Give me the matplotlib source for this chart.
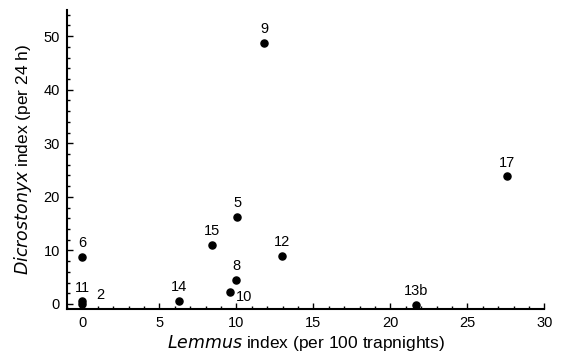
import matplotlib
matplotlib.use('Agg')
import matplotlib.pyplot as plt
from matplotlib.ticker import MultipleLocator

plt.rcParams['font.family'] = ['Liberation Sans', 'DejaVu Sans']

# Datos
etiquetas = ['9', '17', '5', '15', '12', '6', '8', '10', '14', '11', '2', '13b']
lemmus = [11.8, 27.55, 10.05, 8.4, 12.95, 0.0, 10.0, 9.6, 6.3, 0.0, 0.0, 21.65]
dicrostonyx = [48.8, 23.8, 16.3, 11.0, 9.0, 8.8, 4.5, 2.3, 0.5, 0.6, 0.0, -0.2]

# Desplazamiento de cada etiqueta (en puntos)
offsets = {'10': (10, -4), '2': (13, 6.5), '11': (0, 9)}

fig = plt.figure(figsize=(5.63, 3.62), dpi=100)
ax = fig.add_axes([0.119, 0.1456, 0.848, 0.827])

ax.scatter(lemmus, dicrostonyx, s=26, color='black', zorder=3)

for lab, x, y in zip(etiquetas, lemmus, dicrostonyx):
    dx, dy = offsets.get(lab, (0, 10))
    ax.annotate(lab, (x, y), xytext=(dx, dy), textcoords='offset points',
                ha='center', va='center', fontsize=10.5)

ax.set_xlim(-1.0, 30.0)
ax.set_ylim(-1.0, 54.9)
ax.xaxis.set_major_locator(MultipleLocator(5))
ax.xaxis.set_minor_locator(MultipleLocator(1))
ax.yaxis.set_major_locator(MultipleLocator(10))
ax.yaxis.set_minor_locator(MultipleLocator(2))
ax.tick_params(which='both', direction='in', labelsize=10.5, width=1)
ax.tick_params(which='major', length=4)
ax.tick_params(axis='x', which='major', pad=5)
ax.tick_params(axis='y', which='major', pad=5)
ax.tick_params(which='minor', length=2)

for s in ['top', 'right']:
    ax.spines[s].set_visible(False)
for s in ['left', 'bottom']:
    ax.spines[s].set_linewidth(1.5)

ax.set_xlabel('$\\it{Lemmus}$ index (per 100 trapnights)', fontsize=12.5, labelpad=2)
ax.set_ylabel('$\\it{Dicrostonyx}$ index (per 24 h)', fontsize=12.5, labelpad=7)

plt.savefig('out.png', dpi=100)
